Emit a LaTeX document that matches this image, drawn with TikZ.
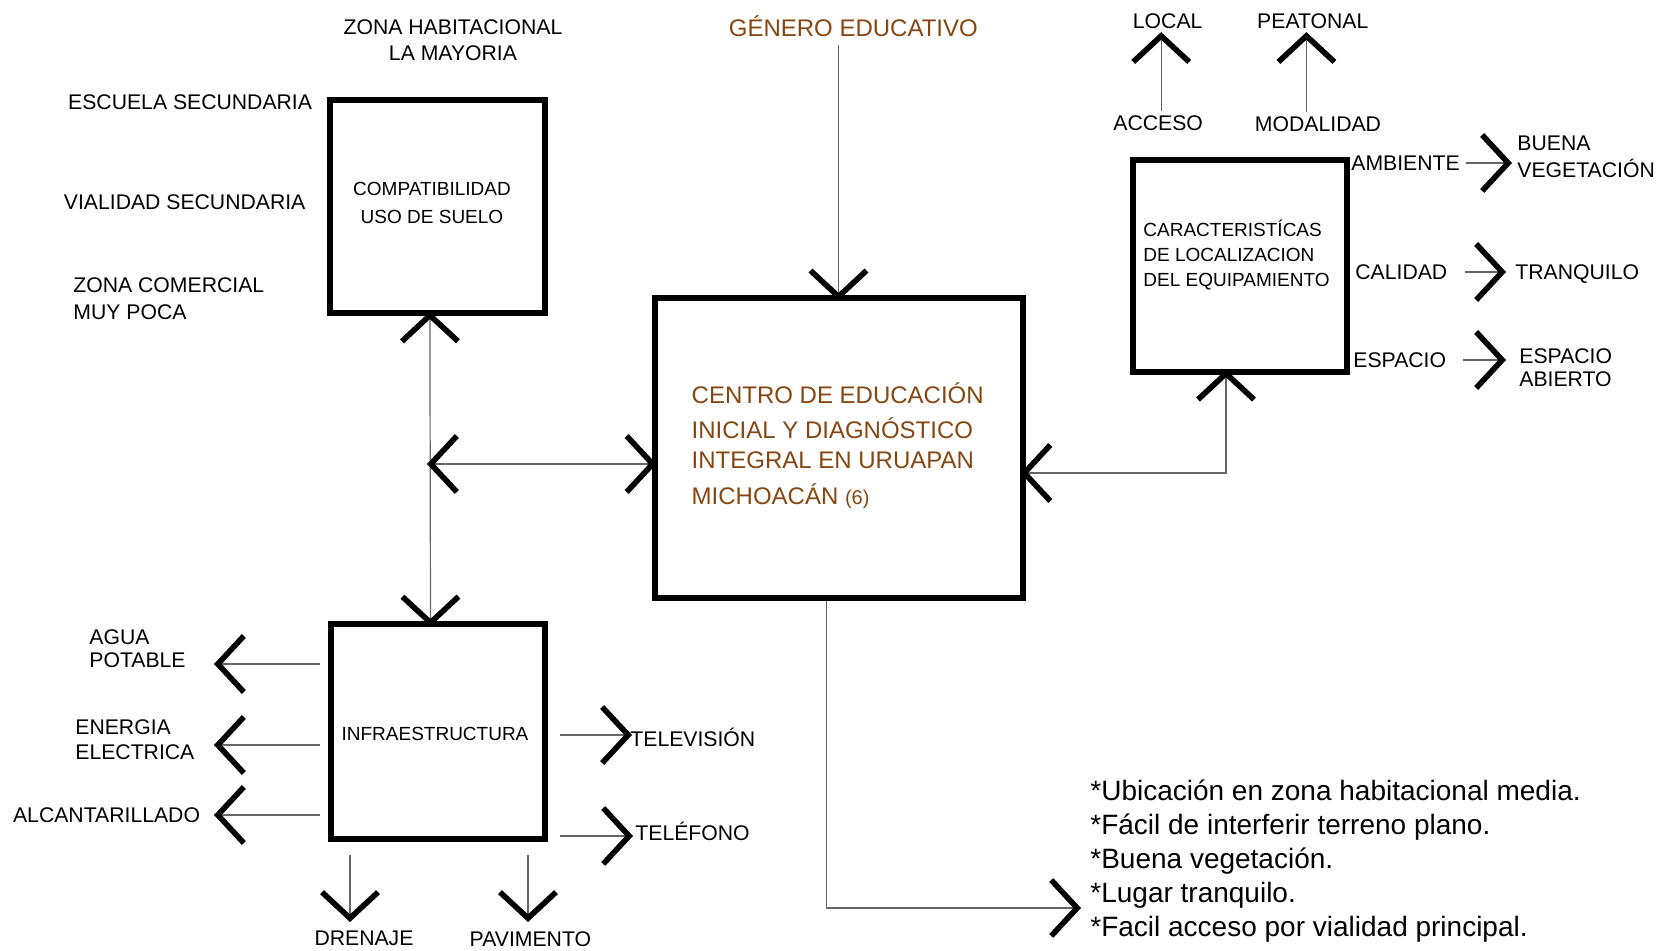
\documentclass[tikz,border=0pt]{standalone}
\usepackage{fontspec}
\setmainfont{Liberation Sans}
\usepackage{tikz}
\usetikzlibrary{arrows.meta}
\definecolor{cafe}{RGB}{134,70,16}

\tikzset{
  >={Straight Barb[sharp,length=13pt,width=28pt,line width=2.8pt,color=black]},
  caja/.style={draw, line width=3pt, inner sep=0pt},
  liga/.style={draw=black!60, line width=0.6pt},
  etq/.style={inner sep=0pt, font=\fontsize{10.6}{12.7}\selectfont},
  dentro/.style={inner sep=0pt, font=\fontsize{9.5}{12.5}\selectfont},
}

\begin{document}
\begin{tikzpicture}[x=0.5pt, y=-0.5pt]
    \useasboundingbox (0,0) rectangle (1660,951);
    % cajas
    \node[caja, minimum width=107.5pt, minimum height=106.5pt] (uso) at (437.7,207) {};
    \node[caja, minimum width=107pt, minimum height=107pt] (infra) at (438.3,731.5) {};
    \node[caja, minimum width=184pt, minimum height=150pt] (centro) at (838.5,448.4) {};
    \node[caja, minimum width=107pt, minimum height=106pt] (carac) at (1239.7,265.7) {};

    \node[dentro, align=center, font=\fontsize{9.5}{14.3}\selectfont] (usotxt) at (432,203) {COMPATIBILIDAD\\USO DE SUELO};
    \node[dentro] (infratxt) at (435,733.7) {INFRAESTRUCTURA};
    \node[dentro, align=left, anchor=west] (caractxt) at (1143,255) {CARACTERISTÍCAS\\DE LOCALIZACION\\DEL EQUIPAMIENTO};
    \node[inner sep=0pt, anchor=west, align=left, text=cafe, font=\fontsize{12}{14.85}\selectfont] (centrotxt) at (691.3,446)
        {CENTRO DE EDUCACIÓN\\[2.5pt] INICIAL Y DIAGNÓSTICO\\ INTEGRAL EN URUAPAN\\[3.6pt] MICHOACÁN {\fontsize{10}{12}\selectfont(6)}};

    % etiquetas
    \node[etq, align=center] (zhab) at (453,40.2) {ZONA HABITACIONAL\\LA MAYORIA};
    \node[inner sep=0pt, text=cafe, font=\fontsize{12}{14}\selectfont] (genero) at (853.3,26.5) {GÉNERO EDUCATIVO};
    \node[etq] (local) at (1167.7,21.2) {LOCAL};
    \node[etq] (peat) at (1312.8,21.2) {PEATONAL};
    \node[etq] (acceso) at (1158.2,122.8) {ACCESO};
    \node[etq] (modal) at (1318,123.9) {MODALIDAD};
    \node[etq, anchor=west] (escuela) at (67.8,102.7) {ESCUELA SECUNDARIA};
    \node[etq, anchor=west] (vialidad) at (63.5,202.2) {VIALIDAD SECUNDARIA};
    \node[etq, anchor=west, align=left, font=\fontsize{10.6}{13.8}\selectfont] (zcom) at (73,298.6) {ZONA COMERCIAL\\MUY POCA};

    \node[etq, anchor=west] (amb) at (1351,163) {AMBIENTE};
    \node[etq, anchor=west, align=left, font=\fontsize{10.6}{13.8}\selectfont] (buena) at (1517,157) {BUENA\\VEGETACIÓN};
    \node[etq, anchor=west] (cal) at (1355,272) {CALIDAD};
    \node[etq, anchor=west] (tranq) at (1515,274) {TRANQUILO};
    \node[etq, anchor=west] (esp) at (1353,360) {ESPACIO};
    \node[etq, anchor=west, align=left, font=\fontsize{10.6}{11.7}\selectfont] (abierto) at (1519,368) {ESPACIO\\ABIERTO};

    \node[etq, anchor=west, align=left, font=\fontsize{10.6}{11.7}\selectfont] (agua) at (89,649) {AGUA\\POTABLE};
    \node[etq, anchor=west, align=left, font=\fontsize{10.6}{12.7}\selectfont] (energia) at (75,740) {ENERGIA\\ELECTRICA};
    \node[etq, anchor=west] (alcant) at (12.7,815.2) {ALCANTARILLADO};
    \node[etq, anchor=west] (tele) at (630,737) {TELEVISIÓN};
    \node[etq, anchor=west] (telf) at (635,831) {TELÉFONO};
    \node[etq] (dren) at (364,938) {DRENAJE};
    \node[etq] (pav) at (530.4,939) {PAVIMENTO};

    \node[inner sep=0pt, anchor=west, align=left, font=\fontsize{14}{16.95}\selectfont] (notas) at (1090,861)
        {*Ubicación en zona habitacional media.\\*Fácil de interferir terreno plano.\\*Buena vegetación.\\*Lugar tranquilo.\\*Facil acceso por vialidad principal.};

    % ligas
    \coordinate (jn) at (430,464);
    \coordinate (nt) at (1078,908);
    \coordinate (tA) at (217,664);
    \coordinate (tE) at (217,745);
    \coordinate (tC) at (217,815);
    \coordinate (tD) at (350,919);
    \coordinate (tP) at (528,919);

    \draw[liga, <->, shorten <=-2.5pt, shorten >=-2.5pt] ([xshift=-3.9pt]uso.south) -- ([xshift=-3.9pt]infra.north);
    \draw[liga, <->, shorten <=-1.5pt, shorten >=-2.5pt] (jn) -- (jn -| centro.west);
    \draw[liga, ->, shorten <=4pt, shorten >=-2.5pt] (genero.south -| centro.north) -- (centro.north);
    \draw[liga, <->, shorten <=-2.5pt, shorten >=-2.5pt] ([xshift=-6.85pt]carac.south) |- ([yshift=-12.3pt]centro.east);
    \draw[liga, ->, shorten >=-1.5pt] ([xshift=-5.85pt]centro.south) |- (nt);

    \draw[liga, ->, shorten <=2pt, shorten >=1.5pt] ([xshift=1.5pt]acceso.north) -- ([xshift=1.5pt]acceso.north |- local.south);
    \draw[liga, ->, shorten <=2pt, shorten >=1.5pt] ([xshift=-5.8pt]modal.north) -- ([xshift=-5.8pt]modal.north |- peat.south);

    \draw[liga, ->, shorten >=2.5pt] ([xshift=3pt]amb.east) -- (amb.east -| buena.west);
    \draw[liga, ->, shorten >=4.5pt] ([xshift=8.5pt]cal.east) -- (cal.east -| tranq.west);
    \draw[liga, ->, shorten >=6.5pt] ([xshift=8.5pt]esp.east) -- (esp.east -| abierto.west);

    \draw[liga, ->, shorten <=4pt, shorten >=-1.5pt] (tA -| infra.west) -- (tA);
    \draw[liga, ->, shorten <=4pt, shorten >=-1.5pt] (tE -| infra.west) -- (tE);
    \draw[liga, ->, shorten <=4pt, shorten >=-1.5pt] (tC -| infra.west) -- (tC);
    \draw[liga, ->, shorten >=-1pt] ([xshift=6pt,yshift=1pt]infra.east |- tele.west) -- ([yshift=1pt]tele.west);
    \draw[liga, ->, shorten >=1pt] ([xshift=6pt,yshift=-2.5pt]infra.east |- telf.west) -- ([yshift=-2.5pt]telf.west);
    \draw[liga, ->, shorten <=6.8pt, shorten >=-1.5pt] (tD |- infra.south) -- (tD);
    \draw[liga, ->, shorten <=6.8pt, shorten >=-1.5pt] (tP |- infra.south) -- (tP);
\end{tikzpicture}
\end{document}
